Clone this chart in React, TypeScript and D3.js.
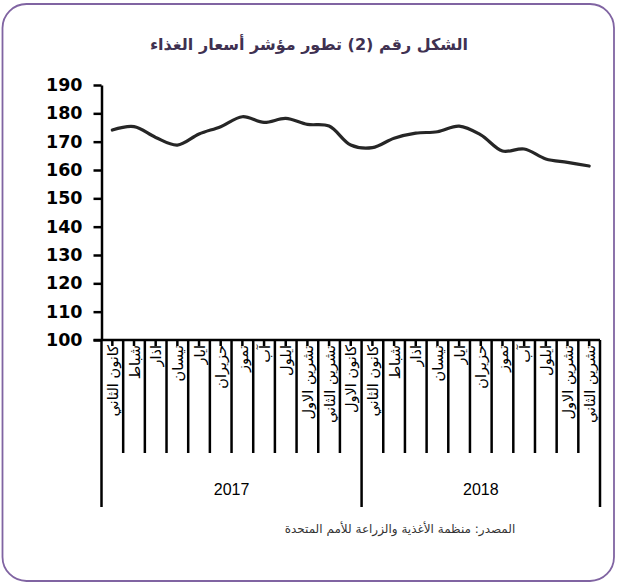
import React, { useEffect, useRef } from 'react';
import * as d3 from 'd3';

// Months per year as they appear on the axis (2018 stops at November)
const months2017 = ['كانون الثاني', 'شباط', 'اذار', 'نيسان', 'ايار', 'حزيران', 'تموز', 'آب', 'ايلول', 'تشرين الاول', 'تشرين الثاني', 'كانون الاول'];
const months2018 = ['كانون الثاني', 'شباط', 'اذار', 'نيسان', 'ايار', 'حزيران', 'تموز', 'آب', 'ايلول', 'تشرين الاول', 'تشرين الثاني'];
const years = ['2017', '2018'];

// FAO food price index
const foodIndex = [174.1, 175.3, 171.5, 168.8, 172.7, 175.3, 178.8, 176.8, 178.2, 176.1, 175.5, 168.8,
  167.9, 171.2, 173.0, 173.5, 175.5, 172.4, 166.7, 167.4, 163.9, 162.7, 161.4];

const yTicks = [100, 110, 120, 130, 140, 150, 160, 170, 180, 190];

const title = 'الشكل رقم (2) تطور مؤشر أسعار الغذاء';
const source = 'المصدر: منظمة  الأغذية والزراعة للأمم المتحدة';

const App = () => {
  const svgRef = useRef<SVGSVGElement>(null);

  useEffect(() => {
    const svg = d3.select(svgRef.current);
    svg.selectAll('*').remove();

    const width = 617;
    const height = 583;
    const left = 101.5, right = 600, top = 85, bottom = 340;

    const cats = [
      ...months2017.map((m, i) => ({ key: `2017-${i}`, label: m, year: years[0] })),
      ...months2018.map((m, i) => ({ key: `2018-${i}`, label: m, year: years[1] })),
    ];

    const x = d3.scaleBand<string>()
      .domain(cats.map(c => c.key))
      .range([left, right])
      .padding(0);

    const y = d3.scaleLinear().domain([100, 190]).range([bottom, top]);

    // frame
    svg.append('rect')
      .attr('x', 2.5).attr('y', 4)
      .attr('width', 611.5).attr('height', 577)
      .attr('rx', 24).attr('ry', 24)
      .attr('fill', '#fff')
      .attr('stroke', '#8064a2')
      .attr('stroke-width', 1.8);

    // title
    svg.append('text')
      .attr('x', 309).attr('y', 50)
      .attr('text-anchor', 'middle')
      .attr('direction', 'rtl')
      .attr('font-family', 'DejaVu Sans')
      .attr('font-size', 16)
      .attr('font-weight', 'bold')
      .attr('fill', '#3f3151')
      .text(title);

    // y axis
    const yAxis = svg.append('g')
      .attr('transform', `translate(${left},0)`)
      .call(d3.axisLeft(y).tickValues(yTicks).tickSize(8).tickPadding(11).tickSizeOuter(0));
    yAxis.select('.domain').attr('stroke', '#000').attr('stroke-width', 2.5);
    yAxis.selectAll('.tick line').attr('stroke', '#000').attr('stroke-width', 2.5);
    yAxis.selectAll('.tick text')
      .attr('font-family', 'DejaVu Sans')
      .attr('font-size', 17.5)
      .attr('font-weight', 'bold')
      .attr('fill', '#000');

    // x axis line
    svg.append('line')
      .attr('x1', left - 8).attr('x2', right)
      .attr('y1', bottom).attr('y2', bottom)
      .attr('stroke', '#000').attr('stroke-width', 2.5);

    // month separators
    const monthLineEnd = 453;
    const yearLineEnd = 507;
    cats.forEach((c, i) => {
      const x0 = x(c.key)!;
      const isYearEdge = i === 0 || i === months2017.length;
      svg.append('line')
        .attr('x1', x0).attr('x2', x0)
        .attr('y1', bottom).attr('y2', isYearEdge ? yearLineEnd : monthLineEnd)
        .attr('stroke', '#000').attr('stroke-width', 2.5);
      // small tick in the middle of the column
      const xc = x0 + x.bandwidth() / 2;
      svg.append('line')
        .attr('x1', xc).attr('x2', xc)
        .attr('y1', bottom).attr('y2', bottom + 6)
        .attr('stroke', '#000').attr('stroke-width', 2.5);
    });
    svg.append('line')
      .attr('x1', right).attr('x2', right)
      .attr('y1', bottom).attr('y2', yearLineEnd)
      .attr('stroke', '#000').attr('stroke-width', 2.5);

    // month labels, rotated
    cats.forEach(c => {
      const xc = x(c.key)! + x.bandwidth() / 2 + 5.5;
      svg.append('text')
        .attr('transform', `translate(${xc},${bottom + 5}) rotate(-90)`)
        .attr('direction', 'rtl')
        .attr('text-anchor', 'start')
        .attr('font-family', 'DejaVu Sans')
        .attr('font-size', 14.5)
        .attr('fill', '#000')
        .text(c.label);
    });

    // year labels
    const yearSpans = [
      [x(cats[0].key)!, x(cats[months2017.length].key)!],
      [x(cats[months2017.length].key)!, right],
    ];
    years.forEach((yr, i) => {
      svg.append('text')
        .attr('x', (yearSpans[i][0] + yearSpans[i][1]) / 2)
        .attr('y', 495)
        .attr('text-anchor', 'middle')
        .attr('font-family', 'Liberation Sans')
        .attr('font-size', 16)
        .attr('fill', '#000')
        .text(yr);
    });

    // the line
    const line = d3.line<number>()
      .x((_, i) => x(cats[i].key)! + x.bandwidth() / 2)
      .y(d => y(d))
      .curve(d3.curveCatmullRom.alpha(0.5));

    svg.append('path')
      .datum(foodIndex)
      .attr('d', line)
      .attr('fill', 'none')
      .attr('stroke', '#262626')
      .attr('stroke-width', 3.2)
      .attr('stroke-linecap', 'round');

    // source
    svg.append('text')
      .attr('x', 400).attr('y', 533)
      .attr('text-anchor', 'middle')
      .attr('direction', 'rtl')
      .attr('font-family', 'DejaVu Sans')
      .attr('font-size', 12)
      .attr('fill', '#333')
      .text(source);

    svg.attr('width', width).attr('height', height);
  }, []);

  return (
    <div style={{ position: 'absolute', left: 0, top: 0 }}>
      <svg ref={svgRef} width={617} height={583} style={{ display: 'block' }}></svg>
    </div>
  );
};

export default App;
